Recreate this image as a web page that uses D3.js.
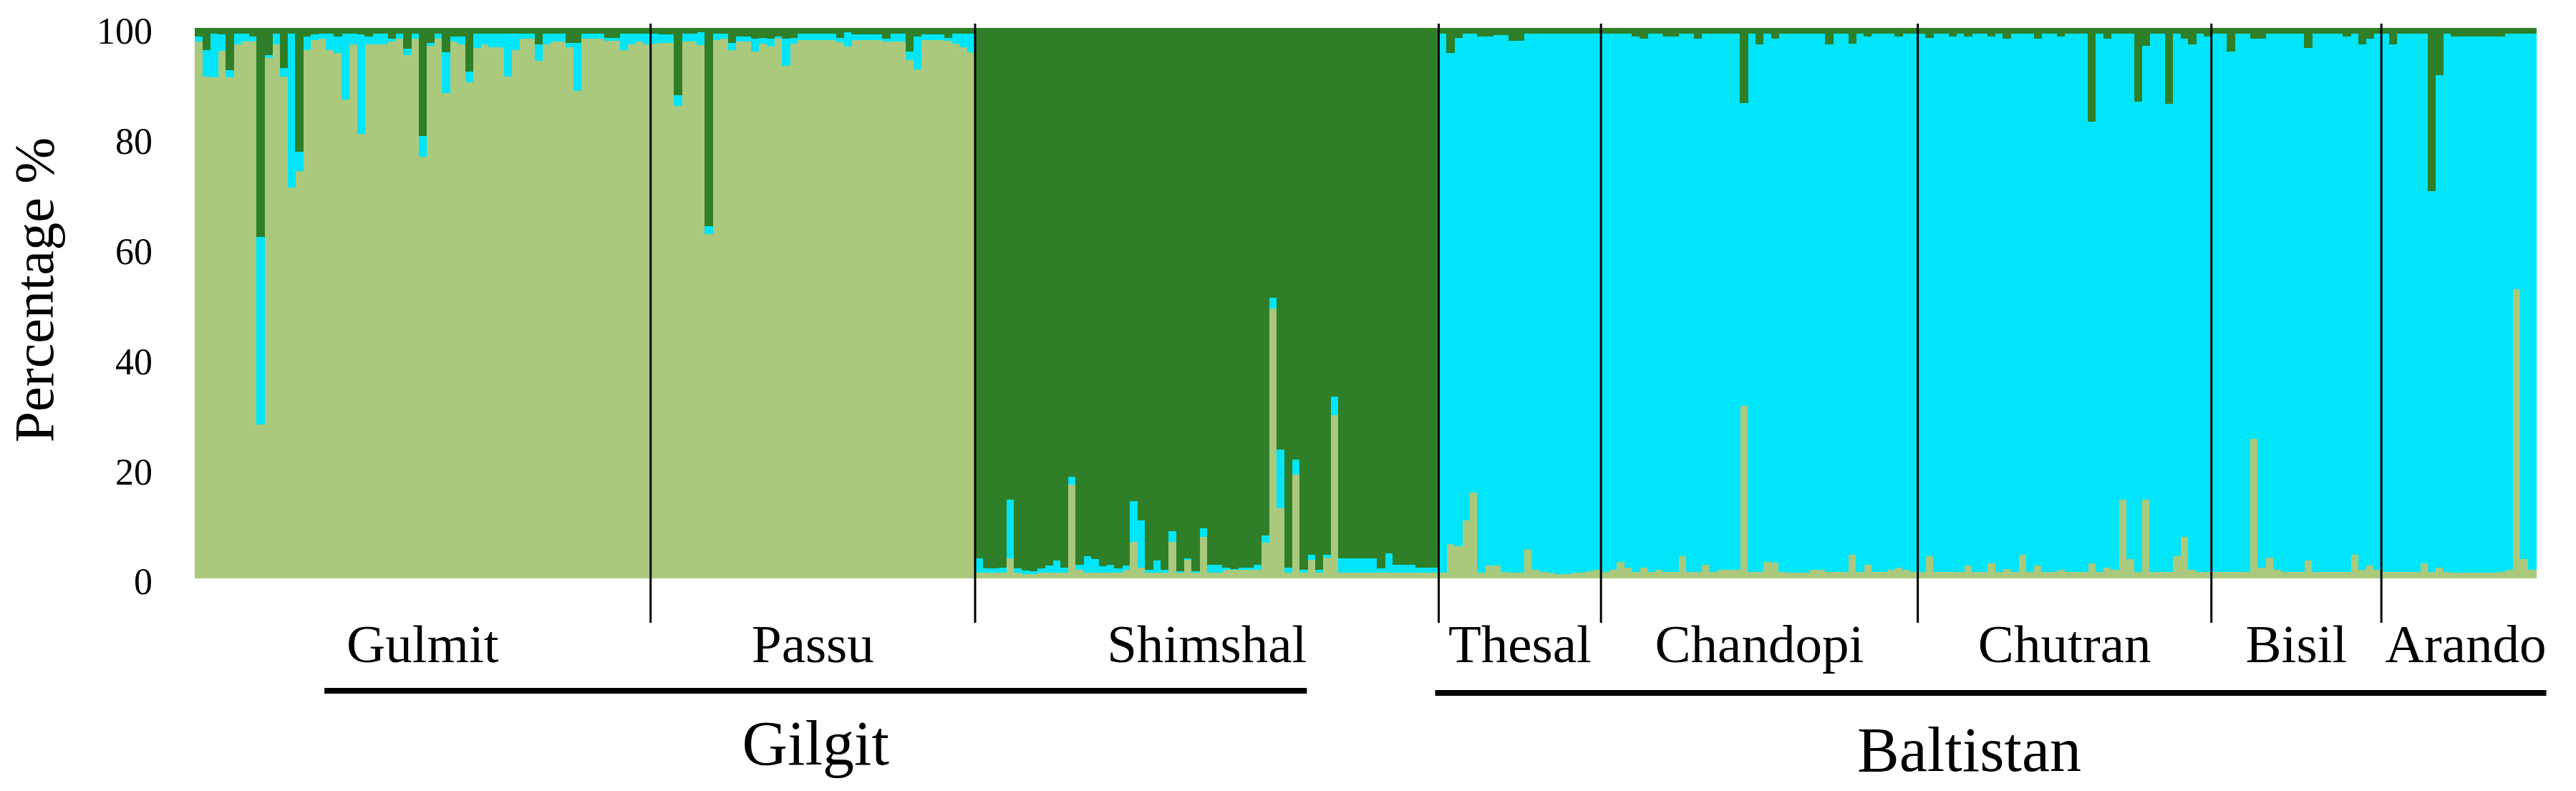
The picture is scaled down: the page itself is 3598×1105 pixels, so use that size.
<!DOCTYPE html>
<html>
<head>
<meta charset="utf-8">
<script src="https://cdn.jsdelivr.net/npm/d3@7"></script>
<style>
  body { margin: 0; background: #fff; }
  text { font-family: "Palatino Linotype", "Book Antiqua", Palatino, "Liberation Serif", serif; fill: #000; }
</style>
</head>
<body>
<div id="main"></div>
<script>
// populations and the region each one belongs to
const populations = ["Gulmit", "Passu", "Shimshal", "Thesal", "Chandopi", "Chutran", "Bisil", "Arando"];
const regionOf = ["Gilgit", "Gilgit", "Gilgit", "Baltistan", "Baltistan", "Baltistan", "Baltistan", "Baltistan"];
const regions = ["Gilgit", "Baltistan"];

// three clusters, stacked bottom to top
const clusterKeys = ["light", "cyan", "dark"];
const clusterColors = ["#abc97d", "#00e5fa", "#2f7f28"];

const yTicks = [0, 20, 40, 60, 80, 100];

// membership (%) per individual: [light, cyan, dark]
const qGulmit = [
  [97.5,1,1.5],[91.2,4.8,4],[91,8,1],[95.8,3,1.2],[91,1.3,7.7],[97,2,1],[97.5,1.5,1],[97.5,1,1.5],
  [28,34,38],[94.5,0.5,5],[97,2,1],[91.2,1.5,7.3],[71,28,1],[74,3.5,22.5],[96,2.5,1.5],[97.8,1,1.2],
  [98,1,1],[96,3,1],[95.5,3,1.5],[87,12,1],[97,2,1],[80.8,18,1.2],[97,1.5,1.5],[97,2,1],
  [97,2,1],[97.5,0.5,2],[98,1,1],[95,1.2,3.8],[98,1,1],[76.6,3.8,19.6],[96.8,0.5,2.7],[98,1,1],
  [88.2,7.4,4.4],[97.5,1,1.5],[97,1.5,1.5],[90.1,2,7.9],[96.4,2.6,1],[97,2,1],[96.5,2.5,1],[96.5,2.5,1],
  [91.2,7.8,1],[96,3,1],[98,1,1],[98,1,1],[94,3,3],[97,2,1],[97.5,1.5,1],[97.5,1.5,1],
  [96.5,0.8,2.7],[88.5,8.8,2.7],[98,1,1],[98,1,1],[98,1,1],[97.7,0.5,1.8],[97.7,0.5,1.8],[96,3,1],
  [97,2,1],[97.5,1.5,1],[97,2,1]
];
const qPassu = [
  [97.2,1.8,1],[97.3,1.5,1.2],[97.3,1.5,1.2],[85.8,2,12.2],[97.5,1.5,1],[97.5,1.5,1],[96.9,2.3,0.8],[62.5,1.5,36],
  [97.8,1.2,1],[98,1,1],[96,1.3,2.7],[97.5,1,1.5],[97.5,1,1.5],[95.7,2.3,2],[97.2,1,1.8],[96.6,1.4,2],
  [98,0.5,1.5],[93.1,4.9,2],[97.2,1,1.8],[97.8,1.2,1],[97.8,1.2,1],[97.8,1.2,1],[97.8,1.2,1],[97.8,1.2,1],
  [97.4,0.8,1.8],[96.6,2.6,0.8],[97.8,1,1.2],[97.8,1,1.2],[97.8,1,1.2],[97.8,1,1.2],[97.5,0.5,2],[97.5,1.5,1],
  [97.5,1.5,1],[94.2,1.5,4.3],[92.5,6,1.5],[97.8,1,1.2],[97.8,1,1.2],[97.8,1,1.2],[97.7,0.5,1.8],[97.2,1.8,1],
  [96.5,2.5,1],[95.6,3.4,1]
];
const qShimshal = [
  [1,2.6,96.4],[1,0.8,98.2],[1,0.8,98.2],[1,1,98],[3.6,10.7,85.7],[1,0.8,98.2],[0.8,0.6,98.6],[0.8,0.5,98.7],
  [1,0.8,98.2],[1,1.3,97.7],[1,2.3,96.7],[1,1,98],[17,1.5,81.5],[1.5,1,97.5],[1,3,96],[1,2.5,96.5],
  [1,1.2,97.8],[1,1.5,97.5],[1,0.8,98.2],[1.5,0.8,97.7],[6.6,7.4,86],[2,8.5,89.5],[1,0.6,98.4],[1,2.2,96.8],
  [1,0.5,98.5],[6.6,2,91.4],[1,0.3,98.7],[3.4,0.3,96.3],[1,0.3,98.7],[7.6,1.5,90.9],[1,1.5,97.5],[1,1.5,97.5],
  [1.5,0.5,98],[1.5,0.2,98.3],[1.5,0.5,98],[1.5,0.5,98],[1.5,1,97.5],[6.5,1.3,92.2],[49,2,49],[12.7,10.7,76.6],
  [1,1,98],[18.9,2.7,78.4],[1,0.5,98.5],[3.4,0.9,95.7],[1,0.5,98.5],[3.8,0.5,95.7],[29.6,3.4,67],[1,2.6,96.4],
  [1,2.6,96.4],[1,2.6,96.4],[1,2.6,96.4],[1,2.6,96.4],[1,0.8,98.2],[1,3.6,95.4],[1,1.5,97.5],[1,1.5,97.5],
  [1,1.5,97.5],[1,1,98],[1,1,98],[1,1,98]
];
const qThesal = [
  [1,98,1],[6.2,89.3,4.5],[5.8,92.4,1.8],[10.5,88.5,1],[15.6,83.4,1],[1,97.5,1.5],[2.3,96.2,1.5],
  [2.3,96.4,1.3],[1.2,97.5,1.3],[1,96.7,2.3],[1,96.7,2.3],[5.3,93.7,1],[1.5,97.5,1],[1.2,97.8,1],
  [1,98,1],[0.8,98.2,1],[0.8,98.2,1],[1,98,1],[1,98,1],[1.3,97.7,1],[1.5,97.5,1]
];
const qChandopi = [
  [1.2,97.8,1],[1.5,97.5,1],[3,96,1],[2,97,1],[1.2,97.3,1.5],[2,96,2],[1.2,97.8,1],[1.5,97.5,1],
  [1.2,97.2,1.6],[1.2,97.2,1.6],[4,95,1],[1.2,97.8,1],[1.2,96.8,2],[2.5,96.5,1],[1.2,97.8,1],[1.5,97.5,1],
  [1.5,97.5,1],[1.5,97.5,1],[31.4,55,13.6],[1.2,97.8,1],[1.2,95.8,3],[3,96,1],[2.8,95.2,2],[1.2,97.8,1],
  [1,98,1],[1,98,1],[1,98,1],[1.5,97.5,1],[1.5,97.5,1],[1.2,95.8,3],[1.2,97.8,1],[1.2,97.8,1],
  [4.3,92.9,2.8],[1.2,97.8,1],[2.5,95.9,1.6],[1.2,97.8,1],[1.2,97.8,1],[1.5,97.5,1],[2,96.4,1.6],[1.5,97.5,1],
  [1.2,97.8,1]
];
const qChutran = [
  [1.2,97.8,1],[4,94.2,1.8],[1.2,97.8,1],[1.2,97.8,1],[1.2,97.3,1.5],[1.2,97.8,1],[2.3,96.1,1.6],[1.2,97.8,1],
  [1.2,97.8,1],[2.7,95.8,1.5],[1.2,97.8,1],[1.7,96.4,1.9],[1.2,97.8,1],[4.3,94.7,1],[1.2,97.8,1],[2.3,95.8,1.9],
  [1.2,97.8,1],[1.2,97.8,1],[1.5,97,1.5],[1.2,97.8,1],[1.2,97.8,1],[1.2,97.8,1],[2.7,80.3,17],[1.2,97.8,1],
  [2,96.1,1.9],[1.5,97.5,1],[14.3,84.7,1],[3.5,95.5,1],[1.2,85.4,13.4],[14.3,82.5,3.2],[1.2,97.8,1],[1.2,97.8,1],
  [1.2,85,13.8],[4,95,1],[7.5,90.5,2],[1.5,95.5,3],[1.2,97.8,1],[1.2,97.3,1.5]
];
const qBisil = [
  [1.2,97.8,1],[1.2,97.8,1],[1.2,94.5,4.3],[1.2,97.8,1],[1.2,97.8,1],[25.3,72.7,2],[2,96,2],[3.8,95.2,1],
  [1.5,97.5,1],[1.2,97.8,1],[1.2,97.8,1],[1.2,97.8,1],[3.3,93.1,3.6],[1.2,97.8,1],[1.2,97.8,1],[1.2,97.8,1],
  [1.2,97.8,1],[1.2,97.3,1.5],[4.3,94.7,1],[1.5,95.5,3],[2.3,95.7,2],[1.5,97.5,1]
];
const qArando = [
  [1.2,97.8,1],[1.2,95.8,3],[1.2,97.8,1],[1.2,97.8,1],[1.2,97.8,1],[2.7,96.3,1],[1.2,69.2,29.6],[2,89.4,8.6],
  [1.2,97.8,1],[1,97.5,1.5],[1,97.5,1.5],[1,97.5,1.5],[1,97.5,1.5],[1,97.5,1.5],[1,97.5,1.5],[1.2,97.3,1.5],
  [1.5,97.5,1],[52.5,46.5,1],[3.5,95.5,1],[1.5,97.5,1]
];
const qByPop = [qGulmit, qPassu, qShimshal, qThesal, qChandopi, qChutran, qBisil, qArando];

const width = 3598;
const height = 1105;
const plotLeft = 272;
const plotRight = 3542;
const plotTop = 39;
const plotBottom = 808;

const svg = d3.select("#main")
  .append("svg")
  .attr("width", width)
  .attr("height", height);

// one row per individual
const rows = [];
qByPop.forEach((q, p) => {
  q.forEach((v, j) => {
    rows.push({ id: p + "-" + j, pop: p, light: v[0], cyan: v[1], dark: v[2] });
  });
});

const x = d3.scaleBand()
  .domain(rows.map(d => d.id))
  .range([plotLeft, plotRight])
  .padding(0);

const y = d3.scaleLinear()
  .domain([0, 1])
  .range([plotBottom, plotTop]);

const series = d3.stack()
  .keys(clusterKeys)
  .offset(d3.stackOffsetExpand)(rows);

svg.append("g")
  .selectAll("g")
  .data(series)
  .join("g")
  .attr("fill", (d, i) => clusterColors[i])
  .selectAll("rect")
  .data(d => d)
  .join("rect")
  .attr("x", d => x(d.data.id))
  .attr("width", x.bandwidth() + 0.6)
  .attr("y", d => y(d[1]))
  .attr("height", d => Math.max(0, y(d[0]) - y(d[1])))
  .attr("shape-rendering", "crispEdges");

// y axis: labels only
const yAxis = svg.append("g")
  .attr("transform", "translate(" + plotLeft + ",0)")
  .call(d3.axisLeft(y)
    .tickValues(yTicks.map(v => v / 100))
    .tickFormat(d => Math.round(d * 100))
    .tickSize(0)
    .tickPadding(59));
yAxis.select(".domain").remove();
yAxis.selectAll("text")
  .attr("dy", "0.42em")
  .style("font-size", "52px")
  .style("font-family", "\"Palatino Linotype\", \"Book Antiqua\", Palatino, \"Liberation Serif\", serif");

svg.append("text")
  .attr("transform", "translate(74,405) rotate(-90)")
  .attr("text-anchor", "middle")
  .style("font-size", "78px")
  .text("Percentage %");

// population extents in pixels
const popExtent = populations.map((name, p) => {
  const ids = rows.filter(d => d.pop === p).map(d => d.id);
  const x0 = x(ids[0]);
  const x1 = x(ids[ids.length - 1]) + x.bandwidth();
  return { name, region: regionOf[p], x0, x1 };
});

// separators between populations
svg.append("g")
  .selectAll("line")
  .data(popExtent.slice(1))
  .join("line")
  .attr("x1", d => d.x0)
  .attr("x2", d => d.x0)
  .attr("y1", 33)
  .attr("y2", 870)
  .attr("stroke", "#000")
  .attr("stroke-width", 3);

const popLabels = svg.append("g")
  .selectAll("text")
  .data(popExtent)
  .join("text")
  .attr("x", d => (d.x0 + d.x1) / 2 + (d.name === "Arando" ? 10 : 0))
  .attr("y", 925)
  .attr("text-anchor", "middle")
  .style("font-size", "75px")
  .text(d => d.name);

popLabels.each(function (d) {
  const len = this.getComputedTextLength();
  const cx = +d3.select(this).attr("x");
  d.labelLeft = cx - len / 2;
  d.labelRight = cx + len / 2;
});

// region brackets
const regionSpans = regions.map((r, k) => {
  const members = popExtent.filter(d => d.region === r);
  const first = members[0];
  const last = members[members.length - 1];
  const left = k === 0 ? first.labelLeft - 31 : first.x0 - 5;
  return { name: r, left, right: last.labelRight, k };
});

svg.append("g")
  .selectAll("line")
  .data(regionSpans)
  .join("line")
  .attr("x1", d => d.left)
  .attr("x2", d => d.right)
  .attr("y1", d => 965 + d.k * 3)
  .attr("y2", d => 965 + d.k * 3)
  .attr("stroke", "#000")
  .attr("stroke-width", 8);

svg.append("g")
  .selectAll("text")
  .data(regionSpans)
  .join("text")
  .attr("x", d => (d.left + d.right) / 2 - (d.k === 1 ? 30 : 0))
  .attr("y", d => 1068 + d.k * 9)
  .attr("text-anchor", "middle")
  .style("font-size", "88px")
  .text(d => d.name);
</script>
</body>
</html>
